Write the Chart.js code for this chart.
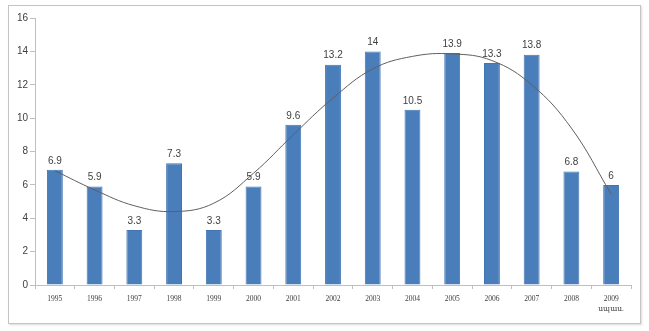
<!DOCTYPE html>
<html>
<head>
<meta charset="utf-8">
<script src="https://cdn.jsdelivr.net/npm/chart.js@4/dist/chart.umd.min.js"></script>
<style>
    body { margin: 0; background: #fff; }
    #box {
        position: absolute; left: 8px; top: 5px;
        width: 633px; height: 319px;
        border: 1px solid #c4c4c4; box-sizing: border-box;
        box-shadow: 1px 1px 2px rgba(0,0,0,0.15);
    }
    #box canvas { display: block; }
</style>
</head>
<body>
<div id="box"><canvas id="myChart" width="631" height="317"></canvas></div>
<script>
// 年ごとのデータ
const years = ['1995', '1996', '1997', '1998', '1999', '2000', '2001', '2002',
    '2003', '2004', '2005', '2006', '2007', '2008', ['2009', 'սպաս.']];
const values = [6.9, 5.9, 3.3, 7.3, 3.3, 5.9, 9.6, 13.2, 14, 10.5, 13.9, 13.3, 13.8, 6.8, 6];
// トレンドライン
const trend = [6.85, 5.7, 4.75, 4.4, 4.9, 6.7, 9.0, 11.2, 12.95, 13.7, 13.85, 13.45, 12.0, 9.4, 5.45];
const yTicks = [0, 2, 4, 6, 8, 10, 12, 14, 16];

// 棒の上に値を表示する
const valueLabels = {
    id: 'valueLabels',
    afterDatasetsDraw(chart) {
        const ctx = chart.ctx;
        const meta = chart.getDatasetMeta(1);
        ctx.save();
        ctx.font = '10px "Liberation Sans", Arial, sans-serif';
        ctx.fillStyle = '#404040';
        ctx.textAlign = 'center';
        ctx.textBaseline = 'bottom';
        meta.data.forEach((bar, i) => {
            ctx.fillText(String(values[i]), bar.x, bar.y - 4);
        });
        ctx.restore();
    }
};

const ctx = document.getElementById('myChart').getContext('2d');
const myChart = new Chart(ctx, {
    type: 'bar',
    data: {
        labels: years,
        datasets: [{
            type: 'line',
            data: trend,
            borderColor: '#5f5f5f',
            borderWidth: 1,
            pointRadius: 0,
            tension: 0.4,
            fill: false,
            order: 0
        }, {
            type: 'bar',
            data: values,
            backgroundColor: '#4a7ebb',
            borderColor: '#4275b2',
            borderWidth: 1,
            barPercentage: 0.4,
            categoryPercentage: 1,
            order: 1
        }]
    },
    options: {
        responsive: false,
        animation: false,
        layout: { padding: { top: 12, right: 9, left: 0, bottom: 0 } },
        plugins: { legend: { display: false }, tooltip: { enabled: false } },
        scales: {
            x: {
                grid: { drawOnChartArea: false, tickLength: 4, color: '#bfbfbf' },
                border: { color: '#bfbfbf' },
                ticks: {
                    color: '#404040',
                    padding: 5,
                    maxRotation: 0,
                    autoSkip: false,
                    font: { family: '"Liberation Serif", "DejaVu Serif", serif', size: 7.5, lineHeight: 1.3 }
                },
                afterFit(scale) { scale.height = 38; }
            },
            y: {
                min: 0,
                max: 16,
                grid: { drawOnChartArea: false, tickLength: 5, color: '#bfbfbf' },
                border: { color: '#bfbfbf' },
                afterBuildTicks(scale) { scale.ticks = yTicks.map(v => ({ value: v })); },
                ticks: {
                    color: '#404040',
                    padding: 2,
                    font: { family: '"Liberation Sans", Arial, sans-serif', size: 10 }
                },
                afterFit(scale) { scale.width = 26; }
            }
        }
    },
    plugins: [valueLabels]
});
</script>
</body>
</html>
